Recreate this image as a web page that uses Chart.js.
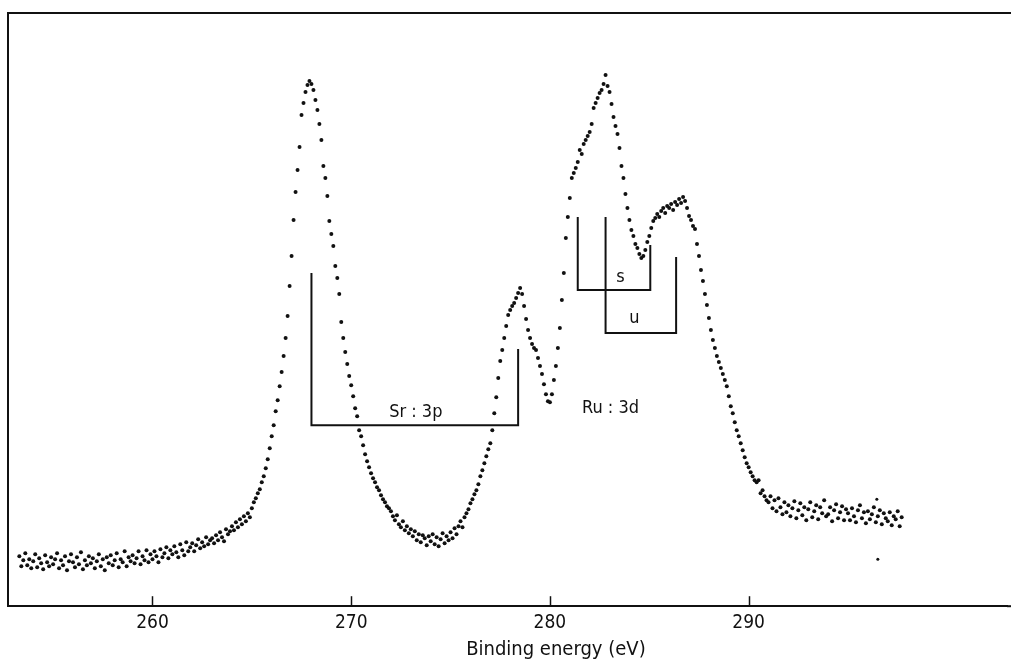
<!DOCTYPE html>
<html>
<head>
<meta charset="utf-8">
<title>Sr 3p / Ru 3d XPS spectrum</title>
<script src="https://cdn.jsdelivr.net/npm/chart.js@4.4.1/dist/chart.umd.min.js"></script>
<style>
  html, body { margin: 0; padding: 0; background: #ffffff; }
  #wrap { width: 1011px; height: 665px; }
</style>
</head>
<body>
<div id="wrap"><canvas id="xps" width="1011" height="665"></canvas></div>
<script>
// Acquisition grid of the spectrum (eV)
const startEnergy = 253.3;
const stepEnergy = 0.1;

// Recorded intensity (arb. units), one row per eV
const counts = [
  50, 40, 46, 53, 41, 47, 38,                       // 253.3 - 253.9
  45, 52, 39, 48, 43, 37, 51, 44, 40, 49,           // 254
  42, 47, 53, 38, 46, 41, 50, 36, 45, 52,           // 255
  44, 39, 49, 42, 54, 37, 46, 41, 50, 43,           // 256
  48, 38, 45, 52, 40, 47, 36, 49, 43, 51,           // 257
  41, 46, 53, 39, 47, 44, 55, 40, 49, 45,           // 258
  51, 43, 48, 55, 42, 50, 46, 56, 44, 52,           // 259
  47, 55, 50, 44, 57, 49, 53, 59, 48, 56,           // 260
  52, 60, 54, 49, 62, 56, 51, 64, 55, 59,           // 261
  63, 55, 61, 67, 58, 64, 60, 69, 62, 66,           // 262
  68, 63, 71, 66, 74, 69, 65, 77, 72, 75,           // 263
  80, 76, 84, 79, 87, 82, 90, 85, 93, 89,           // 264
  98, 104, 108, 113, 117, 124, 130, 138, 147, 158,  // 265
  170, 181, 195, 206, 220, 234, 250, 268, 290, 320, // 266
  350, 386, 414, 436, 459, 491, 503, 514, 521, 525, // 267
  522, 516, 506, 496, 482, 466, 440, 428, 410, 385, // 268
  372, 360, 340, 328, 312, 284, 268, 254, 242, 230, // 269
  221, 210, 198, 190, 176, 170, 161, 152, 145, 139, // 270
  133, 128, 124, 119, 116, 111, 107, 104, 100, 98,  // 271
  95, 90, 86, 91, 82, 79, 85, 76, 80, 73,           // 272
  77, 70, 75, 66, 72, 64, 71, 68, 61, 70,           // 273
  65, 72, 62, 69, 60, 67, 73, 63, 70, 66,           // 274
  74, 68, 78, 72, 80, 85, 79, 89, 93, 97,           // 275
  103, 107, 112, 116, 122, 130, 136, 143, 150, 157, // 276
  163, 176, 193, 209, 228, 245, 256, 268, 280, 291, // 277
  296, 300, 303, 308, 313, 318, 312, 300, 287, 276, // 278
  268, 262, 258, 256, 248, 240, 232, 222, 212, 205, // 279
  204, 212, 226, 240, 258, 278, 306, 333, 368, 389, // 280
  408, 428, 433, 438, 444, 456, 452, 462, 466, 470, // 281
  474, 482, 498, 503, 508, 513, 516, 522, 531, 520, // 282
  514, 502, 489, 480, 472, 458, 440, 428, 412, 398, // 283
  386, 376, 370, 362, 358, 352, 348, 350, 356, 364, // 284
  370, 378, 385, 388, 392, 389, 395, 398, 393, 400, // 285
  398, 402, 396, 404, 401, 407, 403, 409, 405, 398, // 286
  390, 386, 380, 377, 362, 350, 336, 325, 312, 301, // 287
  288, 276, 266, 258, 250, 244, 238, 232, 226, 220, // 288
  210, 200, 193, 184, 176, 170, 163, 156, 149, 143, // 289
  139, 134, 130, 126, 124, 126, 113, 116, 110, 106, // 290
  104, 110, 98, 106, 95, 108, 99, 92, 104, 94,      // 291
  101, 90, 98, 105, 88, 96, 103, 91, 99, 86,        // 292
  97, 104, 89, 95, 101, 87, 99, 93, 106, 90,        // 293
  92, 99, 85, 96, 102, 88, 94, 100, 86, 97,         // 294
  93, 86, 98, 90, 84, 96, 101, 88, 94, 83,          // 295
  95, 87, 92, 99, 84, 90, 96, 82, 93, 88,           // 296
  85, 94, 81, 90, 87, 95, 80, 89                    // 297.0 - 297.7
];

// Isolated readings near the end of the scan
const strayEnergy = [296.5, 296.45];
const strayCounts = [47, 107];

// Axis ticks and caption
const tickValues = [260, 270, 280, 290];
const axisTitle = 'Binding energy (eV)';

// Component markers: Sr 3p doublet
const srMarkEnergy = [268.0, 268.0, 278.4, 278.4];
const srMarkCounts = [333, 181, 181, 257];
// Ru 3d doublet, screened (s) and unscreened (u) final states
const sMarkEnergy = [281.4, 281.4, 285.05, 285.05];
const sMarkCounts = [389, 316, 316, 361];
const uMarkEnergy = [282.8, 282.8, 286.35, 286.35];
const uMarkCounts = [389, 273, 273, 349];

// Marker captions
const captionText = ['Sr : 3p', 'Ru : 3d', 's', 'u'];
const captionEnergy = [273.25, 283.05, 283.55, 284.25];
const captionCounts = [194, 198, 329, 288];

const FONT = "'DejaVu Sans Condensed', 'Liberation Sans Narrow', 'DejaVu Sans', sans-serif";
const INK = '#111111';

const spectrum = counts.map((c, i) => ({ x: +(startEnergy + i * stepEnergy).toFixed(1), y: c }));
const stray = strayEnergy.map((e, i) => ({ x: e, y: strayCounts[i] }));
const pairUp = (es, cs) => es.map((e, i) => ({ x: e, y: cs[i] }));

const markStyle = {
  showLine: true,
  borderColor: INK,
  borderWidth: 2,
  pointRadius: 0,
  fill: false,
  tension: 0
};

// Plot frame (top edge), inward tick marks and the axis caption
const framePlugin = {
  id: 'frame',
  afterDraw(chart) {
    const { ctx, chartArea, scales } = chart;
    ctx.save();
    ctx.strokeStyle = INK;
    ctx.lineWidth = 2;
    ctx.beginPath();
    ctx.moveTo(chartArea.left, chartArea.top);
    ctx.lineTo(chart.width, chartArea.top);
    ctx.stroke();
    ctx.beginPath();
    ctx.moveTo(chartArea.right, chartArea.bottom);
    ctx.lineTo(chart.width, chartArea.bottom);
    ctx.stroke();
    ctx.lineWidth = 1.5;
    tickValues.forEach(v => {
      const px = Math.round(scales.x.getPixelForValue(v)) + 0.5;
      ctx.beginPath();
      ctx.moveTo(px, chartArea.bottom);
      ctx.lineTo(px, chartArea.bottom - 10);
      ctx.stroke();
    });
    // axis caption sits under the 280 eV region
    ctx.fillStyle = INK;
    ctx.font = '20px ' + FONT;
    ctx.textAlign = 'center';
    ctx.textBaseline = 'middle';
    ctx.fillText(axisTitle, scales.x.getPixelForValue(280.3), chartArea.bottom + 44);
    ctx.restore();
  }
};

// Captions for the component markers
const captionPlugin = {
  id: 'captions',
  afterDatasetsDraw(chart) {
    const { ctx, scales } = chart;
    ctx.save();
    ctx.fillStyle = INK;
    ctx.font = '18px ' + FONT;
    ctx.textAlign = 'center';
    ctx.textBaseline = 'middle';
    captionText.forEach((t, i) => {
      ctx.fillText(t, scales.x.getPixelForValue(captionEnergy[i]), scales.y.getPixelForValue(captionCounts[i]));
    });
    ctx.restore();
  }
};

new Chart(document.getElementById('xps'), {
  type: 'scatter',
  data: {
    datasets: [
      {
        label: 'Spectrum',
        data: spectrum,
        pointRadius: 2,
        pointBorderWidth: 0,
        pointBackgroundColor: INK,
        showLine: false
      },
      {
        label: 'Stray',
        data: stray,
        pointRadius: 1.5,
        pointBorderWidth: 0,
        pointBackgroundColor: INK,
        showLine: false
      },
      Object.assign({ label: 'Sr 3p', data: pairUp(srMarkEnergy, srMarkCounts) }, markStyle),
      Object.assign({ label: 'Ru 3d s', data: pairUp(sMarkEnergy, sMarkCounts) }, markStyle),
      Object.assign({ label: 'Ru 3d u', data: pairUp(uMarkEnergy, uMarkCounts) }, markStyle)
    ]
  },
  options: {
    responsive: false,
    devicePixelRatio: 1,
    animation: false,
    layout: { padding: { left: 0, right: -4, top: 13, bottom: 26 } },
    plugins: {
      legend: { display: false },
      tooltip: { enabled: false }
    },
    scales: {
      x: {
        type: 'linear',
        position: 'bottom',
        min: 252.73,
        max: 303.0,
        afterBuildTicks(scale) {
          scale.ticks = tickValues.map(v => ({ value: v }));
        },
        grid: { display: true, drawOnChartArea: false, drawTicks: false },
        border: { display: true, color: INK, width: 2 },
        ticks: {
          color: INK,
          padding: 5,
          autoSkip: false,
          maxRotation: 0,
          font: { family: FONT, size: 19 },
          callback: v => String(v)
        },
        title: { display: false }
      },
      y: {
        type: 'linear',
        min: 0,
        max: 593,
        grid: { display: false },
        border: { display: true, color: INK, width: 2 },
        ticks: { display: false }
      }
    }
  },
  plugins: [framePlugin, captionPlugin]
});
</script>
</body>
</html>
